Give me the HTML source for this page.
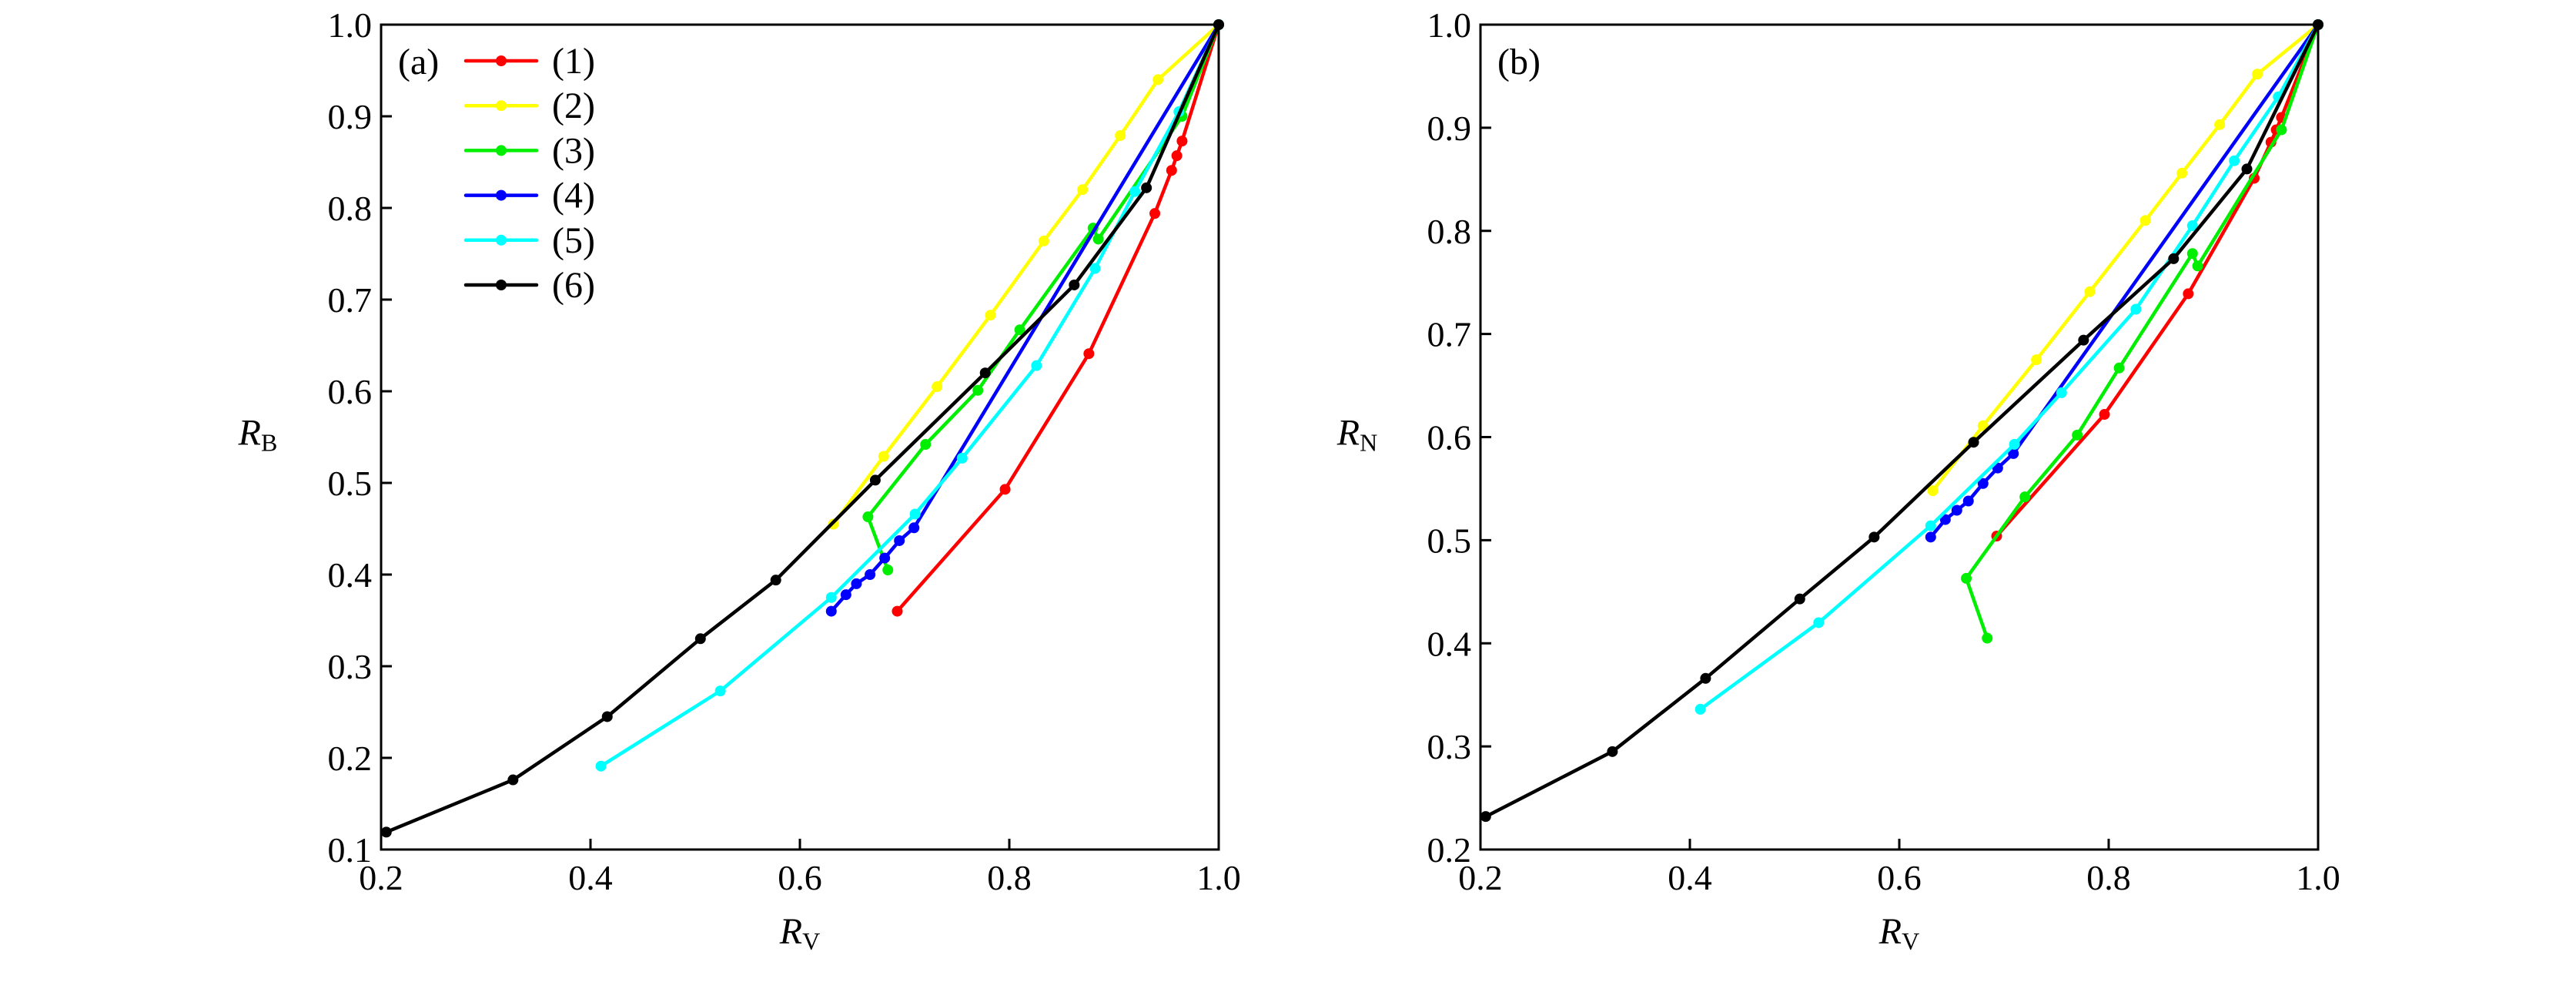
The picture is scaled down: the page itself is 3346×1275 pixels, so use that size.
<!DOCTYPE html>
<html><head><meta charset="utf-8"><style>
html,body{margin:0;padding:0;background:#fff;}
svg text{font-family:"Liberation Serif",serif;}
</style></head><body>
<svg id="chart" width="3346" height="1270" xmlns="http://www.w3.org/2000/svg"></svg>
<script>
const seriesNames = ["(1)","(2)","(3)","(4)","(5)","(6)"];
const seriesColors = ["#ff0000","#ffff00","#00ee00","#0000ff","#00ffff","#000000"];
const xTicks = [0.2,0.4,0.6,0.8,1.0];
const xTickLabels = ["0.2","0.4","0.6","0.8","1.0"];
const yTicksA = [0.1,0.2,0.3,0.4,0.5,0.6,0.7,0.8,0.9,1.0];
const yTickLabelsA = ["0.1","0.2","0.3","0.4","0.5","0.6","0.7","0.8","0.9","1.0"];
const yTicksB = [0.2,0.3,0.4,0.5,0.6,0.7,0.8,0.9,1.0];
const yTickLabelsB = ["0.2","0.3","0.4","0.5","0.6","0.7","0.8","0.9","1.0"];

const a1 = [[0.693,0.36],[0.796,0.493],[0.876,0.641],[0.939,0.794],[0.955,0.841],[0.960,0.857],[0.965,0.873],[1,1]];
const a2 = [[0.632,0.455],[0.68,0.529],[0.731,0.605],[0.782,0.683],[0.833,0.764],[0.87,0.82],[0.906,0.879],[0.942,0.94],[1,1]];
const a3 = [[0.684,0.405],[0.665,0.463],[0.72,0.542],[0.77,0.601],[0.81,0.667],[0.88,0.778],[0.885,0.766],[0.965,0.9],[1,1]];
const a4 = [[0.63,0.36],[0.644,0.378],[0.654,0.39],[0.667,0.4],[0.681,0.418],[0.695,0.437],[0.709,0.451],[1,1]];
const a5 = [[0.41,0.191],[0.524,0.273],[0.63,0.375],[0.71,0.466],[0.755,0.527],[0.826,0.628],[0.882,0.734],[0.92,0.818],[0.962,0.905],[1,1]];
const a6 = [[0.205,0.119],[0.326,0.176],[0.416,0.245],[0.505,0.33],[0.577,0.394],[0.672,0.503],[0.777,0.62],[0.862,0.716],[0.931,0.822],[1,1]];

const b1 = [[0.693,0.504],[0.796,0.622],[0.876,0.739],[0.939,0.851],[0.955,0.886],[0.960,0.898],[0.965,0.91],[1,1]];
const b2 = [[0.632,0.548],[0.68,0.611],[0.731,0.675],[0.782,0.741],[0.835,0.81],[0.87,0.856],[0.906,0.903],[0.942,0.952],[1,1]];
const b3 = [[0.684,0.405],[0.664,0.463],[0.72,0.542],[0.77,0.602],[0.81,0.667],[0.88,0.778],[0.885,0.766],[0.965,0.898],[1,1]];
const b4 = [[0.63,0.503],[0.644,0.52],[0.655,0.529],[0.666,0.538],[0.68,0.555],[0.694,0.57],[0.709,0.584],[1,1]];
const b5 = [[0.41,0.336],[0.523,0.42],[0.63,0.514],[0.71,0.593],[0.755,0.643],[0.826,0.724],[0.88,0.805],[0.92,0.868],[0.962,0.93],[1,1]];
const b6 = [[0.205,0.232],[0.326,0.295],[0.415,0.366],[0.505,0.443],[0.576,0.503],[0.671,0.595],[0.776,0.694],[0.862,0.773],[0.932,0.86],[1,1]];

const NS="http://www.w3.org/2000/svg";
const svg=document.getElementById('chart');
function el(tag,attrs,parent){const e=document.createElementNS(NS,tag);for(const k in attrs)e.setAttribute(k,attrs[k]);(parent||svg).appendChild(e);return e;}

function panel(id,L,R,T,B,ymin,yticks,ylabels,series,tag,ysub,showLegend){
  const g=el('g',{});
  
  
  const xs=v=>L+(v-0.2)/0.8*(R-L);
  const ys=v=>B-(v-ymin)/(1-ymin)*(B-T);
  series.forEach((s,i)=>{
    const sg=el('g',{},g);
    
    
    const pts=s.map(p=>xs(p[0]).toFixed(1)+','+ys(p[1]).toFixed(1)).join(' ');
    const pl=el('polyline',{points:pts,fill:'none',stroke:seriesColors[i],'stroke-width':4.5,'stroke-linejoin':'round'},sg);
    
    
    s.forEach(p=>{
      const c=el('circle',{cx:xs(p[0]),cy:ys(p[1]),r:7,fill:seriesColors[i]},sg);
      
      
    });
  });
  const fr=el('rect',{x:L,y:T,width:R-L,height:B-T,fill:'none',stroke:'#000','stroke-width':3},g);
  
  
  xTicks.forEach((v,i)=>{
    const x=xs(v);
    const t=el('line',{x1:x,y1:B,x2:x,y2:B-14,stroke:'#000','stroke-width':3},g);
    
    
    const tx=el('text',{x:x,y:B+52,'font-size':46,'text-anchor':'middle'},g);
    tx.textContent=xTickLabels[i];
    
    
  });
  yticks.forEach((v,i)=>{
    const y=ys(v);
    const t=el('line',{x1:L,y1:y,x2:L+14,y2:y,stroke:'#000','stroke-width':3},g);
    
    
    const tx=el('text',{x:L-12,y:y+16,'font-size':46,'text-anchor':'end'},g);
    tx.textContent=ylabels[i];
    
    
  });
  const xl=el('text',{x:(L+R)/2,y:1225,'font-size':48,'text-anchor':'middle'},g);
  
  
  xl.innerHTML='<tspan font-style="italic">R</tspan><tspan font-size="32" dy="8">V</tspan>';
  const yl=el('text',{x:L-160,y:(T+B)/2+10,'font-size':48,'text-anchor':'middle'},g);
  
  
  yl.innerHTML='<tspan font-style="italic">R</tspan><tspan font-size="32" dy="8">'+ysub+'</tspan>';
  const pt=el('text',{x:L+22,y:96,'font-size':48},g);
  pt.textContent=tag;
  
  
  if(showLegend){
    const lg=el('g',{},g);
    
    
    seriesNames.forEach((n,i)=>{
      const y=79+i*58.2;
      const e=el('g',{},lg);
      
      
      el('line',{x1:605,y1:y,x2:697,y2:y,stroke:seriesColors[i],'stroke-width':4.5,'stroke-linecap':'round'},e);
      el('circle',{cx:651,cy:y,r:7,fill:seriesColors[i]},e);
      const t=el('text',{x:717,y:y+16,'font-size':48},e);
      t.textContent=n;
    });
  }
}
panel('a',495,1583,32,1103,0.1,yTicksA,yTickLabelsA,[a1,a2,a3,a4,a5,a6],'(a)','B',true);
panel('b',1923,3011,32,1103,0.2,yTicksB,yTickLabelsB,[b1,b2,b3,b4,b5,b6],'(b)','N',false);
</script>
</body></html>
